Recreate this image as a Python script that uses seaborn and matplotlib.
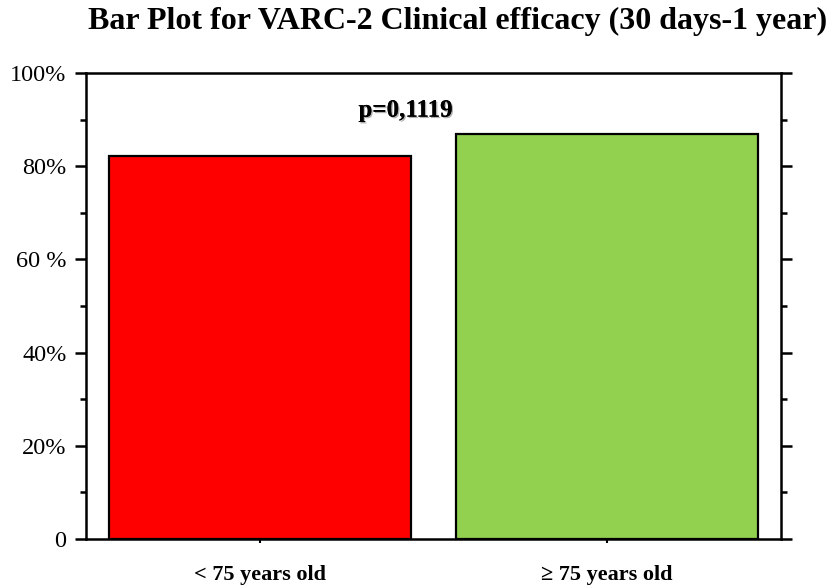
import pandas as pd
import matplotlib
matplotlib.use("Agg")
import matplotlib.pyplot as plt
import matplotlib.patheffects as pe
import seaborn as sns
from matplotlib.ticker import MultipleLocator

# data
groups = ["< 75 years old", "\u2265 75 years old"]
efficacy = [82.2, 86.9]
bar_colors = ["#FF0000", "#92D050"]
ytick_vals = [0, 20, 40, 60, 80, 100]
ytick_labels = ["0", "20%", "40%", "60 %", "80%", "100%"]
p_text = "p=0,1119"

df = pd.DataFrame({"group": groups, "efficacy": efficacy})

sns.set_style("white")
plt.rcParams["font.family"] = ["Liberation Serif", "DejaVu Serif"]
plt.rcParams["text.color"] = "black"
plt.rcParams["xtick.color"] = "black"
plt.rcParams["ytick.color"] = "black"

fig = plt.figure(figsize=(8.35, 5.88), dpi=100)
ax = fig.add_axes([0.103, 0.0833, 0.832, 0.7927])

sns.barplot(data=df, x="group", y="efficacy", hue="group", palette=bar_colors,
            legend=False, width=0.87, edgecolor="black", linewidth=1.6,
            saturation=1, ax=ax)

ax.set_ylim(0, 100)
ax.set_xlim(-0.5, 1.5)
ax.set_yticks(ytick_vals)
ax.set_yticklabels(ytick_labels, fontsize=17.5)
ax.yaxis.set_minor_locator(MultipleLocator(10))
ax.set_xlabel("")
ax.set_ylabel("")
ax.set_xticks([0, 1])
ax.set_xticklabels(groups, fontsize=16, fontweight="bold")

for s in ax.spines.values():
    s.set_linewidth(1.8)
    s.set_color("black")

ax.tick_params(axis="y", which="major", direction="out", length=8, width=1.8,
               left=True, right=True, pad=6)
ax.tick_params(axis="y", which="minor", direction="out", length=4, width=1.8,
               left=True, right=True)
ax.tick_params(axis="x", which="major", direction="out", length=3, width=1.5,
               bottom=True, pad=16)

ax.text(0.42, 92, p_text, ha="center", va="center", fontsize=18,
        fontweight="bold",
        path_effects=[pe.withSimplePatchShadow(offset=(1, -1), alpha=0.3),
                      pe.Normal()])

fig.text(0.105, 0.963, "Bar Plot for VARC-2 Clinical efficacy (30 days-1 year)",
         ha="left", va="center", fontsize=23, fontweight="bold")

fig.savefig("out.png", dpi=100)
